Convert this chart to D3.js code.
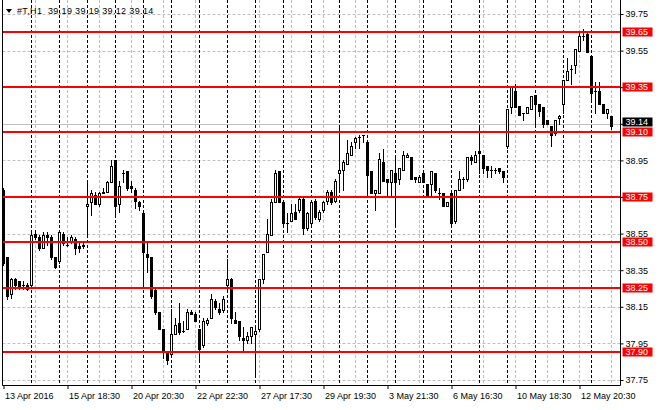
<!DOCTYPE html>
<html>
<head>
<meta charset="utf-8">
<script src="https://cdn.jsdelivr.net/npm/d3@7"></script>
<style>
  body { margin: 0; background: #fff; }
  text { font-family: "Liberation Sans", Arial, sans-serif; font-size: 9px; }
</style>
</head>
<body>
<div id="chart"></div>
<script>
// OHLC of #T, H1 bars, oldest first
const opens = [
  38.79,38.42,38.22,38.30,38.29,38.27,38.27,38.27,38.55,38.53,
  38.47,38.54,38.53,38.42,38.40,38.55,38.49,38.51,38.52,38.48,
  38.49,38.70,38.72,38.76,38.71,38.77,38.78,38.83,38.95,38.71,
  38.88,38.89,38.81,38.79,38.72,38.66,38.44,38.42,38.24,38.12,
  38.03,37.90,37.89,38.00,38.06,38.02,38.03,38.12,38.11,38.03,
  37.94,38.06,38.09,38.18,38.14,38.13,38.27,38.30,38.08,38.07,
  37.98,37.97,37.99,38.00,38.03,38.30,38.45,38.54,38.72,38.89,
  38.72,38.61,38.62,38.67,38.68,38.74,38.58,38.61,38.73,38.63,
  38.68,38.73,38.78,38.73,38.88,38.90,38.93,38.98,39.05,39.08,
  39.09,39.05,38.89,38.77,38.77,38.94,38.85,38.83,38.88,38.85,
  38.90,38.97,38.97,38.86,38.83,38.88,38.82,38.82,38.88,38.77,
  38.77,38.70,38.77,38.62,38.79,38.85,38.85,38.97,38.94,39.00,
  38.98,38.92,38.90,38.90,38.91,38.89,39.03,39.24,39.33,39.25,
  39.21,39.21,39.23,39.31,39.26,39.24,39.17,39.14,39.10,39.18,
  39.26,39.39,39.45,39.47,39.55,39.63,39.64,39.52,39.33,39.33,
  39.26,39.21,39.19
];
const highs = [
  38.80,38.42,38.31,38.31,38.29,38.29,38.28,38.57,38.57,38.54,
  38.56,38.56,38.54,38.42,38.57,38.56,38.53,38.54,38.53,38.50,
  38.50,38.83,38.79,38.78,38.78,38.80,38.84,38.95,38.95,38.84,
  38.90,38.89,38.84,38.80,38.73,38.67,38.51,38.42,38.25,38.12,
  38.03,37.90,38.14,38.09,38.17,38.07,38.14,38.13,38.12,38.03,
  38.09,38.09,38.22,38.19,38.17,38.21,38.41,38.31,38.12,38.07,
  38.04,38.01,38.04,38.04,38.30,38.44,38.63,38.74,38.90,38.89,
  38.72,38.66,38.71,38.71,38.75,38.75,38.67,38.73,38.74,38.68,
  38.73,38.79,38.79,38.85,39.14,38.95,39.06,39.05,39.08,39.09,
  39.09,39.05,38.89,38.79,38.99,39.01,38.85,38.90,38.97,38.91,
  39.00,38.99,38.97,38.86,38.87,38.88,38.82,38.89,38.88,38.80,
  38.77,38.72,38.77,38.79,38.89,38.86,38.97,38.98,39.00,39.13,
  38.98,38.92,38.92,38.91,38.91,38.89,39.23,39.35,39.37,39.25,
  39.21,39.24,39.30,39.31,39.26,39.24,39.17,39.14,39.17,39.20,
  39.39,39.51,39.47,39.56,39.65,39.67,39.65,39.52,39.38,39.38,
  39.26,39.23,39.19
];
const lows = [
  38.38,38.19,38.20,38.25,38.25,38.25,38.24,38.26,38.52,38.46,
  38.47,38.49,38.41,38.36,38.39,38.49,38.48,38.50,38.44,38.45,
  38.47,38.53,38.65,38.71,38.70,38.77,38.78,38.83,38.65,38.67,
  38.83,38.79,38.78,38.69,38.68,38.26,38.34,38.20,38.11,38.03,
  37.87,37.84,37.88,38.00,38.00,38.01,38.03,38.11,38.07,37.86,
  37.93,38.05,38.09,38.14,38.11,38.12,38.25,38.06,38.06,37.97,
  37.91,37.95,37.95,37.77,38.02,38.28,38.45,38.54,38.72,38.72,
  38.59,38.56,38.62,38.63,38.67,38.55,38.57,38.60,38.63,38.62,
  38.67,38.71,38.71,38.72,38.79,38.79,38.93,38.98,39.02,39.02,
  39.05,38.76,38.77,38.68,38.77,38.84,38.76,38.76,38.59,38.82,
  38.90,38.97,38.85,38.83,38.83,38.83,38.76,38.76,38.78,38.74,
  38.70,38.70,38.59,38.61,38.79,38.80,38.84,38.93,38.94,38.88,
  38.88,38.86,38.86,38.88,38.88,38.83,39.02,39.21,39.24,39.20,
  39.17,39.21,39.23,39.15,39.19,39.13,39.15,39.03,39.09,39.15,
  39.21,39.39,39.37,39.43,39.55,39.61,39.54,39.27,39.21,39.26,
  39.21,39.18,39.12
];
const closes = [
  38.39,38.21,38.30,38.27,38.26,38.27,38.25,38.54,38.53,38.47,
  38.54,38.53,38.42,38.37,38.56,38.50,38.49,38.53,38.47,38.47,
  38.48,38.71,38.77,38.71,38.77,38.78,38.83,38.92,38.70,38.81,
  38.88,38.80,38.80,38.73,38.70,38.45,38.42,38.21,38.12,38.03,
  37.91,37.86,38.00,38.05,38.01,38.02,38.12,38.11,38.07,37.92,
  38.07,38.08,38.19,38.15,38.12,38.19,38.30,38.09,38.06,37.99,
  37.97,37.99,38.04,38.02,38.30,38.44,38.55,38.72,38.88,38.72,
  38.61,38.61,38.66,38.63,38.74,38.58,38.66,38.72,38.64,38.67,
  38.72,38.78,38.72,38.84,38.90,38.94,38.99,39.03,39.07,39.08,
  39.09,38.87,38.77,38.79,38.96,38.84,38.83,38.90,38.83,38.91,
  38.98,38.98,38.85,38.85,38.86,38.83,38.76,38.89,38.79,38.77,
  38.70,38.72,38.61,38.79,38.85,38.85,38.97,38.95,38.98,38.99,
  38.91,38.90,38.90,38.90,38.89,38.86,39.23,39.35,39.24,39.20,
  39.21,39.24,39.30,39.26,39.22,39.15,39.15,39.09,39.17,39.19,
  39.39,39.44,39.45,39.56,39.63,39.63,39.54,39.32,39.33,39.26,
  39.21,39.23,39.14
];

const timeLabels = ["13 Apr 2016", "15 Apr 18:30", "20 Apr 20:30", "22 Apr 22:30", "27 Apr 17:30",
                    "29 Apr 19:30", "3 May 21:30", "6 May 16:30", "10 May 18:30", "12 May 20:30"];
const priceTicks = [39.75, 39.55, 39.35, 39.15, 38.95, 38.75, 38.55, 38.35, 38.15, 37.95, 37.75];
const levels = [39.65, 39.35, 39.10, 38.75, 38.50, 38.25, 37.90];
const lastPrice = 39.14;
const title = "#T,H1  39.19 39.19 39.12 39.14";

const w = 660, h = 410;
const left = 2.5, right = 620.5, bottom = 385.5;
const barsPerDay = 7, barsPerGrid = 8, barsPerLabel = 16;
const n = closes.length;

const xScale = d3.scaleLinear().domain([0, n - 1]).range([3.5, 611.5]);
const yScale = d3.scaleLinear().domain([37.75, 39.75]).range([380, 14]);
const py = p => Math.round(yScale(p)) + 0.5;

const svg = d3.select("#chart")
  .append("svg")
  .attr("width", w)
  .attr("height", h)
  .style("background-color", "#fff");

// grid
svg.append("g").selectAll("line")
  .data(priceTicks)
  .enter()
  .append("line")
  .attr("x1", left).attr("x2", right)
  .attr("y1", d => py(d)).attr("y2", d => py(d))
  .attr("stroke", "#c0c0c0")
  .attr("stroke-dasharray", "3,2");

svg.append("g").selectAll("line")
  .data(d3.range(barsPerGrid, n, barsPerGrid))
  .enter()
  .append("line")
  .attr("x1", d => xScale(d)).attr("x2", d => xScale(d))
  .attr("y1", 0).attr("y2", bottom)
  .attr("stroke", "#c0c0c0")
  .attr("stroke-dasharray", "3,2");

// day separators
svg.append("g").selectAll("line")
  .data(d3.range(barsPerDay, n, barsPerDay))
  .enter()
  .append("line")
  .attr("x1", d => xScale(d)).attr("x2", d => xScale(d))
  .attr("y1", 0).attr("y2", bottom)
  .attr("stroke", "#000")
  .attr("stroke-dasharray", "3,2");

// bid line
svg.append("line")
  .attr("x1", left).attr("x2", right)
  .attr("y1", py(lastPrice) - 2).attr("y2", py(lastPrice) - 2)
  .attr("stroke", "#c0c0c0");

// candles
const bars = svg.append("g").selectAll("g")
  .data(d3.range(n))
  .enter()
  .append("g");

bars.append("line")
  .attr("x1", i => xScale(i)).attr("x2", i => xScale(i))
  .attr("y1", i => py(highs[i]) - 0.5)
  .attr("y2", i => py(lows[i]) + 0.5)
  .attr("stroke", "#000");

bars.each(function (i) {
  const g = d3.select(this);
  const top = Math.round(yScale(Math.max(opens[i], closes[i])));
  const bot = Math.round(yScale(Math.min(opens[i], closes[i])));
  if (bot - top < 1) {
    g.append("line")
      .attr("x1", xScale(i) - 1.5).attr("x2", xScale(i) + 1.5)
      .attr("y1", top + 0.5).attr("y2", top + 0.5)
      .attr("stroke", "#000");
  } else {
    g.append("rect")
      .attr("x", xScale(i) - 1)
      .attr("y", top + 0.5)
      .attr("width", 2)
      .attr("height", bot - top)
      .attr("fill", closes[i] > opens[i] ? "#fff" : "#000")
      .attr("stroke", "#000");
  }
});

// horizontal levels
svg.append("g").selectAll("line")
  .data(levels)
  .enter()
  .append("line")
  .attr("x1", left).attr("x2", right)
  .attr("y1", d => Math.floor(yScale(d))).attr("y2", d => Math.floor(yScale(d)))
  .attr("stroke", "#ff0000")
  .attr("stroke-width", 2);

// frame
svg.append("rect")
  .attr("x", 0).attr("y", 0)
  .attr("width", left).attr("height", bottom)
  .attr("fill", "#fff");
svg.append("path")
  .attr("d", `M${left},0V${bottom}H${right}V0`)
  .attr("fill", "none")
  .attr("stroke", "#000");

// level tags: the bid tag sits just above its price, as in the terminal
const tagData = levels.map(d => ({ v: d, c: "#ff0000", off: 0 }))
  .concat([{ v: lastPrice, c: "#000", off: -3 }]);
const tagY = d => Math.floor(yScale(d.v)) + d.off;

// price axis (labels fully hidden under a tag are left out)
const yAxis = d3.axisRight(yScale)
  .tickValues(priceTicks)
  .tickSize(3)
  .tickPadding(2)
  .tickFormat(d3.format(".2f"));
const ya = svg.append("g")
  .attr("transform", `translate(${right},0)`)
  .call(yAxis);
ya.select(".domain").remove();
ya.selectAll("text").attr("fill", "#000").style("font-size", "9px");
ya.selectAll(".tick")
  .filter(d => tagData.some(t => Math.abs(tagY(t) - yScale(d)) < 3))
  .select("text").remove();

// time axis
const xAxis = d3.axisBottom(xScale)
  .tickValues(d3.range(0, n, barsPerLabel))
  .tickSize(4)
  .tickPadding(4)
  .tickFormat((d, i) => timeLabels[i]);
const xa = svg.append("g")
  .attr("transform", `translate(0,${bottom - 0.5})`)
  .call(xAxis);
xa.select(".domain").remove();
xa.selectAll("text").attr("text-anchor", "start").attr("x", 1).attr("fill", "#000").style("font-size", "9px");

const tags = svg.append("g").selectAll("g")
  .data(tagData)
  .enter()
  .append("g");
tags.append("rect")
  .attr("x", right + 2)
  .attr("y", d => tagY(d) - 4.5)
  .attr("width", 30)
  .attr("height", 9)
  .attr("fill", d => d.c);
tags.append("text")
  .attr("x", right + 5)
  .attr("y", d => tagY(d))
  .attr("dy", "0.34em")
  .attr("fill", "#fff")
  .text(d => d.v.toFixed(2));

// title
svg.append("path")
  .attr("d", "M6,9h6l-3,4z")
  .attr("fill", "#000");
svg.append("text")
  .attr("x", 17)
  .attr("y", 14)
  .attr("xml:space", "preserve")
  .style("white-space", "pre")
  .style("letter-spacing", "0.35px")
  .text(title);
</script>
</body>
</html>
